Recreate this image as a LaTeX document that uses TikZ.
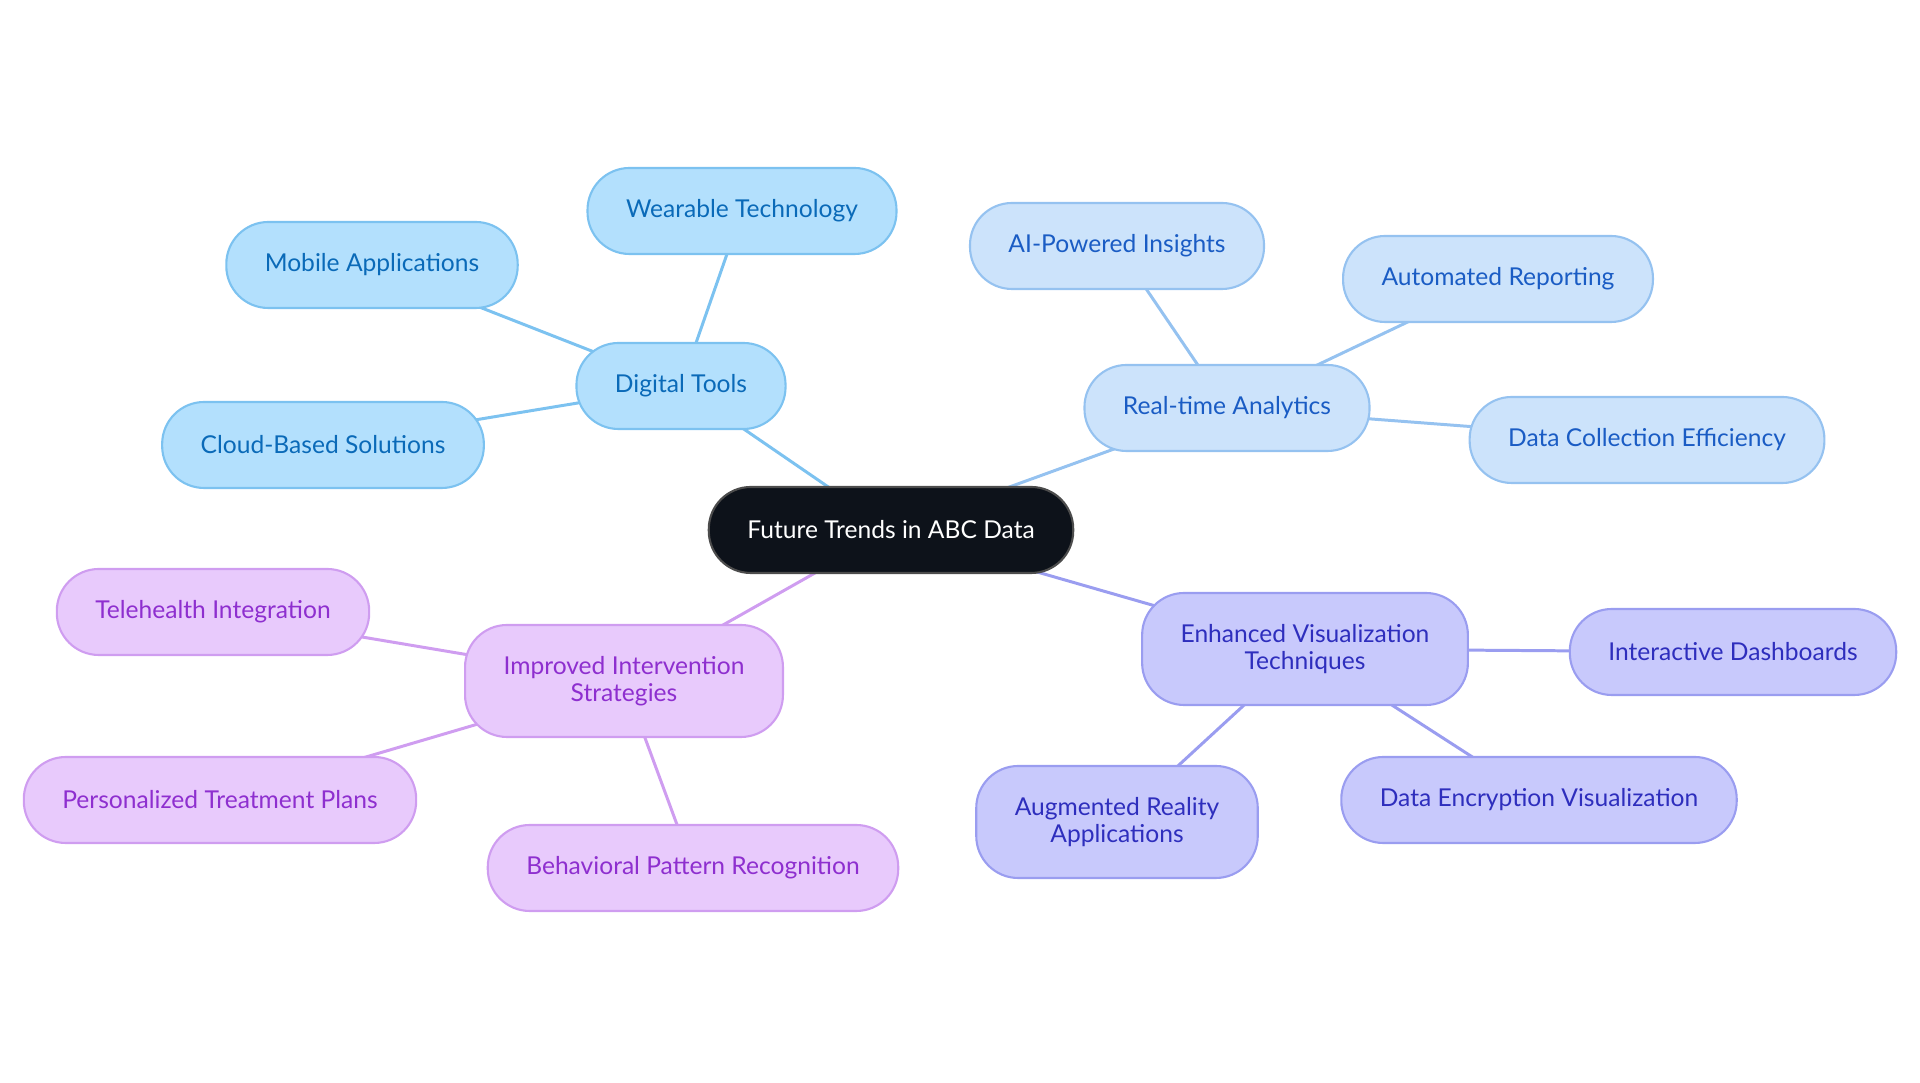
\documentclass[tikz,border=0pt]{standalone}
\usepackage{fontspec}
\setmainfont{Lato}
\usetikzlibrary{backgrounds}

% colours of the four branches
\definecolor{rootfill}{HTML}{0D121A}
\definecolor{dtfill}{HTML}{B3E0FD}
\definecolor{dtline}{HTML}{7CC2F0}
\definecolor{dttext}{HTML}{0A6AB8}
\definecolor{rtfill}{HTML}{CCE3FB}
\definecolor{rtline}{HTML}{95C2F0}
\definecolor{rttext}{HTML}{1A5CC4}
\definecolor{evfill}{HTML}{C8C9FC}
\definecolor{evline}{HTML}{9A9DF0}
\definecolor{evtext}{HTML}{2E2EBD}
\definecolor{imfill}{HTML}{E8CAFC}
\definecolor{imline}{HTML}{CF9DF0}
\definecolor{imtext}{HTML}{8E2FCF}

\begin{document}
\begin{tikzpicture}[
        % basic pill shape
        pill/.style={rectangle, rounded corners=0.42cm, line width=0.6pt, minimum height=0.86cm, inner xsep=0.385cm, align=center, font=\fontsize{7}{7.6}\selectfont},
        twoline/.style={minimum height=1.12cm},
        % root node
        root/.style={pill, fill=rootfill, draw=gray!60!black, text=white, minimum width=3.53cm},
        % branch styles
        dt/.style={pill, fill=dtfill, draw=dtline, text=dttext},
        rt/.style={pill, fill=rtfill, draw=rtline, text=rttext},
        ev/.style={pill, fill=evfill, draw=evline, text=evtext},
        im/.style={pill, fill=imfill, draw=imline, text=imtext},
        % connectors
        link/.style={line width=0.85pt}
    ]
    \useasboundingbox (0,0) rectangle (19.2,10.83);

    % root
    \node[root] (trends) at (8.91,5.53) {Future Trends in ABC Data};

    % Digital Tools branch
    \node[dt] (digital) at (6.81,6.97) {Digital Tools};
    \node[dt] (wearable) at (7.42,8.72) {Wearable Technology};
    \node[dt] (mobile) at (3.72,8.18) {Mobile Applications};
    \node[dt] (cloud) at (3.23,6.38) {Cloud-Based Solutions};

    % Real-time Analytics branch
    \node[rt] (realtime) at (12.27,6.75) {Real-time Analytics};
    \node[rt] (aiinsights) at (11.17,8.37) {AI-Powered Insights};
    \node[rt] (reporting) at (14.98,8.04) {Automated Reporting};
    \node[rt] (collection) at (16.47,6.43) {Data Collection Efficiency};

    % Enhanced Visualization branch
    \node[ev, twoline] (visual) at (13.05,4.34) {Enhanced Visualization\\Techniques};
    \node[ev] (dashboards) at (17.33,4.31) {Interactive Dashboards};
    \node[ev] (encryption) at (15.39,2.83) {Data Encryption Visualization};
    \node[ev, twoline] (augmented) at (11.17,2.61) {Augmented Reality\\Applications};

    % Improved Intervention branch
    \node[im, twoline] (intervention) at (6.24,4.02) {Improved Intervention\\Strategies};
    \node[im] (telehealth) at (2.13,4.71) {Telehealth Integration};
    \node[im] (treatment) at (2.20,2.83) {Personalized Treatment Plans};
    \node[im] (behavioral) at (6.93,2.15) {Behavioral Pattern Recognition};

    % connectors behind the nodes
    \begin{scope}[on background layer]
        \draw[link, dtline] (trends.center) -- (digital.center);
        \draw[link, dtline] (digital.center) -- (wearable.center);
        \draw[link, dtline] (digital.center) -- (mobile.center);
        \draw[link, dtline] (digital.center) -- (cloud.center);

        \draw[link, rtline] (trends.center) -- (realtime.center);
        \draw[link, rtline] (realtime.center) -- (aiinsights.center);
        \draw[link, rtline] (realtime.center) -- (reporting.center);
        \draw[link, rtline] (realtime.center) -- (collection.center);

        \draw[link, evline] (trends.center) -- (visual.center);
        \draw[link, evline] (visual.center) -- (dashboards.center);
        \draw[link, evline] (visual.center) -- (encryption.center);
        \draw[link, evline] (visual.center) -- (augmented.center);

        \draw[link, imline] (trends.center) -- (intervention.center);
        \draw[link, imline] (intervention.center) -- (telehealth.center);
        \draw[link, imline] (intervention.center) -- (treatment.center);
        \draw[link, imline] (intervention.center) -- (behavioral.center);
    \end{scope}

\end{tikzpicture}
\end{document}
